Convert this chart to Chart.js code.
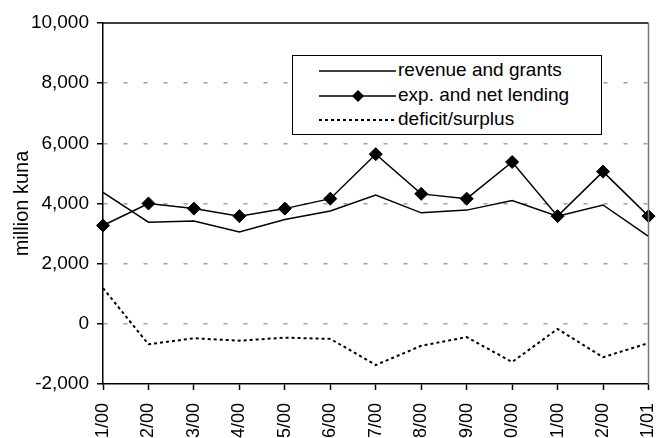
<!DOCTYPE html>
<html>
<head>
<meta charset="utf-8">
<script src="https://cdn.jsdelivr.net/npm/chart.js@4"></script>
<style>
  body { margin: 0; background: #fff; }
  #wrap { position: relative; width: 656px; height: 438px; overflow: hidden; }
  #legenda {
    position: absolute; left: 292px; top: 55px; width: 308px; height: 78px;
    border: 1.5px solid #000; background: #fff;
    font-family: "Liberation Sans", Arial, sans-serif; font-size: 19px; color: #000;
  }
  .item { position: absolute; left: 0; height: 24px; line-height: 24px; white-space: nowrap; }
  .item svg { position: absolute; left: 26px; top: 0; }
  .item span { position: absolute; left: 105px; top: -1px; }
</style>
</head>
<body>
<div id="wrap">
  <canvas id="grafico" width="656" height="438"></canvas>
  <div id="legenda">
    <div class="item" style="top:3px">
      <svg width="78" height="24"><line x1="0" y1="12" x2="77" y2="12" stroke="#000" stroke-width="1.5"/></svg>
      <span>revenue and grants</span>
    </div>
    <div class="item" style="top:28px">
      <svg width="78" height="24"><line x1="0" y1="12" x2="77" y2="12" stroke="#000" stroke-width="1.5"/>
        <polygon points="39,6 45,12 39,18 33,12" fill="#000"/></svg>
      <span>exp. and net lending</span>
    </div>
    <div class="item" style="top:52px">
      <svg width="78" height="24"><line x1="0" y1="12" x2="77" y2="12" stroke="#000" stroke-width="2" stroke-dasharray="3,3"/></svg>
      <span>deficit/surplus</span>
    </div>
  </div>
</div>
<script>
// dados (milhoes de kuna)
const meses = ["1/00", "2/00", "3/00", "4/00", "5/00", "6/00", "7/00", "8/00", "9/00", "10/00", "11/00", "12/00", "1/01"];
const receitas = [4370, 3380, 3420, 3050, 3470, 3750, 4280, 3690, 3780, 4100, 3580, 3950, 2910];
const despesas = [3270, 4000, 3830, 3580, 3830, 4160, 5640, 4320, 4160, 5380, 3580, 5060, 3580];
const deficit = [1190, -680, -480, -560, -460, -500, -1370, -730, -440, -1270, -170, -1110, -640];
const yMin = -2000;
const yMax = 10000;
const yPasso = 2000;

Chart.defaults.font.family = '"Liberation Sans", Arial, sans-serif';
Chart.defaults.color = "#000";

// moldura do topo e da direita
const moldura = {
  id: "moldura",
  afterDraw(chart) {
    const { ctx, chartArea } = chart;
    ctx.save();
    ctx.strokeStyle = "#000";
    ctx.lineWidth = 1.5;
    ctx.beginPath();
    ctx.moveTo(chartArea.left, chartArea.top);
    ctx.lineTo(chartArea.right, chartArea.top);
    ctx.stroke();
    ctx.strokeStyle = "#777";
    ctx.beginPath();
    ctx.moveTo(chartArea.right, chartArea.top);
    ctx.lineTo(chartArea.right, chartArea.bottom);
    ctx.stroke();
    ctx.restore();
  },
};

new Chart(document.getElementById("grafico"), {
  type: "line",
  data: {
    labels: meses,
    datasets: [
      {
        label: "revenue and grants",
        data: receitas,
        borderColor: "#000",
        borderWidth: 1.5,
        pointRadius: 0,
        tension: 0,
      },
      {
        label: "exp. and net lending",
        data: despesas,
        borderColor: "#000",
        backgroundColor: "#000",
        borderWidth: 1.5,
        pointStyle: "rectRot",
        pointRadius: 6.5,
        pointBorderWidth: 1,
        tension: 0,
      },
      {
        label: "deficit/surplus",
        data: deficit,
        borderColor: "#000",
        borderWidth: 2,
        borderDash: [3, 3],
        pointRadius: 0,
        tension: 0,
      },
    ],
  },
  options: {
    responsive: false,
    animation: false,
    layout: { padding: { top: 23, right: 1, left: 0, bottom: 0 } },
    plugins: {
      legend: { display: false },
      tooltip: { enabled: false },
    },
    scales: {
      x: {
        offset: false,
        grid: { drawOnChartArea: false, drawTicks: true, tickLength: 6, tickColor: "#000", tickWidth: 1.5 },
        border: { color: "#000", width: 1.5 },
        ticks: {
          autoSkip: false,
          minRotation: 90,
          maxRotation: 90,
          padding: 13,
          font: { size: 18 },
        },
        afterFit(scale) {
          scale.height = 54;
          scale.paddingLeft = 0;
          scale.paddingRight = 0;
        },
      },
      y: {
        min: yMin,
        max: yMax,
        ticks: {
          stepSize: yPasso,
          padding: 8,
          font: { size: 19 },
          callback: (v) => v.toLocaleString("en-US"),
        },
        grid: {
          color: (c) => (c.tick && (c.tick.value === yMax || c.tick.value === yMin) ? "rgba(0,0,0,0)" : "#a0a0a0"),
          lineWidth: 1.5,
          tickLength: 6,
          tickColor: "#000",
          tickWidth: 1.5,
          tickBorderDash: [],
        },
        border: { color: "#000", width: 1.5, dash: [4, 16] },
        title: {
          display: true,
          text: "million kuna",
          font: { size: 20 },
          padding: { top: 10, bottom: 0 },
        },
        afterFit(scale) {
          scale.width = 103;
        },
      },
    },
  },
  plugins: [moldura],
});
</script>
</body>
</html>
